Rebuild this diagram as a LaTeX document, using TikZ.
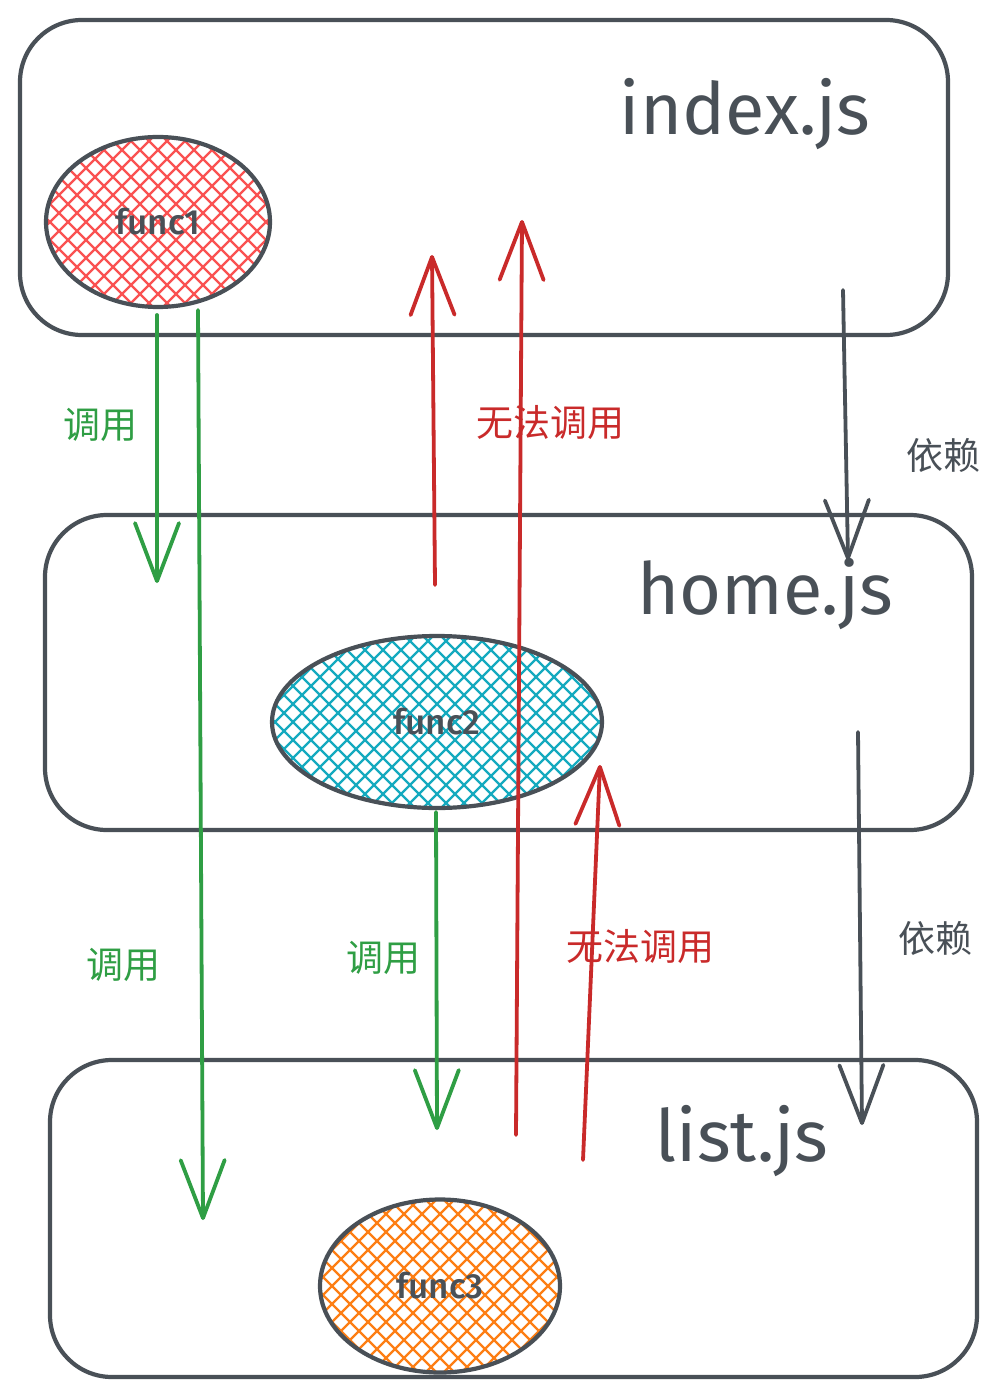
\documentclass[tikz,border=0pt]{standalone}
\usepackage{fontspec}
\setmainfont{Fira Sans}
\newfontfamily\hand{Fira Sans Medium}
\newfontfamily\cjk{Noto Sans CJK SC}
\usetikzlibrary{shapes.geometric,arrows.meta}
\definecolor{dk}{HTML}{495057}
\definecolor{gn}{HTML}{2F9E44}
\definecolor{rd}{HTML}{C92A2A}
\definecolor{hred}{HTML}{FA5252}
\definecolor{hteal}{HTML}{15AABF}
\definecolor{horange}{HTML}{FD7E14}
\tikzset{
  box/.style={draw=dk, line width=4.2pt, rounded corners=62pt, inner sep=0pt},
  hatch/.style={path picture={
    \foreach \i in {-30,...,30}{
      \draw[#1, line width=2.2pt] ([xshift=\i*18pt]path picture bounding box.center) ++(-250pt,-250pt) -- ++(500pt,500pt);
      \draw[#1, line width=2.2pt] ([xshift=\i*18pt]path picture bounding box.center) ++(-250pt,250pt) -- ++(500pt,-500pt);
    }}},
  func/.style={ellipse, inner sep=0pt},
  ftext/.style={text=dk, font=\hand\fontsize{35}{35}\selectfont},
  title/.style={text=dk, font=\fontsize{72}{72}\selectfont},
  lbl/.style={font=\cjk\fontsize{37}{37}\selectfont},
  arr/.style={line width=3.8pt, line cap=round, -{Straight Barb[length=58pt,width=44pt,line width=3.8pt,round]}},
}
\begin{document}
\begin{tikzpicture}[x=1pt,y=-1pt]
\useasboundingbox[fill=white] (0,0) rectangle (1004,1396);
% boxes
\node[box, minimum width=928pt, minimum height=315pt] (bindex) at (484,177.5) {};
\node[box, minimum width=927pt, minimum height=315pt] (bhome) at (508.5,672.5) {};
\node[box, minimum width=927pt, minimum height=317pt] (blist) at (513.5,1218.5) {};
% titles
\node[title] (tindex) at (745,114) {index.js};
\node[title] (thome) at (765,594) {home.js};
\node[title] (tlist) at (742,1141) {list.js};
% ellipses
\node[func, hatch=hred, minimum width=224pt, minimum height=170pt] (f1) at (158,222) {};
\node[func, hatch=hteal, minimum width=330pt, minimum height=172pt] (f2) at (437,722) {};
\node[func, hatch=horange, minimum width=240pt, minimum height=173pt] (f3) at (440,1286) {};
\draw[dk, line width=4.2pt] (f1.center) ellipse [x radius=112pt, y radius=85pt];
\draw[dk, line width=4.2pt] (f2.center) ellipse [x radius=165pt, y radius=86pt];
\draw[dk, line width=4.2pt] (f3.center) ellipse [x radius=120pt, y radius=86.5pt];
\node[ftext] (t1) at (f1.center) {func1};
\node[ftext] (t2) at (f2.center) {func2};
\node[ftext] (t3) at (f3.center) {func3};
% coordinates
\coordinate (g1s) at (157,315); \coordinate (g1e) at (157,583);
\coordinate (g2s) at (198,310); \coordinate (g2e) at (203,1220);
\coordinate (g3s) at (436,812); \coordinate (g3e) at (437,1130);
\coordinate (r1s) at (435,585); \coordinate (r1e) at (432,255);
\coordinate (r2s) at (516,1135); \coordinate (r2e) at (522,220);
\coordinate (r3s) at (583,1160); \coordinate (r3e) at (600,765);
\coordinate (d1s) at (843,290); \coordinate (d1e) at (848,560);
\coordinate (d2s) at (858,732); \coordinate (d2e) at (862,1125);
% arrows
\draw[arr, gn] (g1s) -- (g1e);
\draw[arr, gn] (g2s) -- (g2e);
\draw[arr, gn] (g3s) -- (g3e);
\draw[arr, rd] (r1s) -- (r1e);
\draw[arr, rd] (r2s) -- (r2e);
\draw[arr, rd] (r3s) -- (r3e);
\draw[arr, dk] (d1s) -- (d1e);
\draw[arr, dk] (d2s) -- (d2e);
% labels
\node[lbl, text=gn] (l1) at (100,425) {调用};
\node[lbl, text=rd] (l2) at (550,423) {无法调用};
\node[lbl, text=dk] (l3) at (943,455) {依赖};
\node[lbl, text=gn] (l4) at (123,965) {调用};
\node[lbl, text=gn] (l5) at (383,958) {调用};
\node[lbl, text=rd] (l6) at (640,947) {无法调用};
\node[lbl, text=dk] (l7) at (935,938) {依赖};
\end{tikzpicture}
\end{document}
